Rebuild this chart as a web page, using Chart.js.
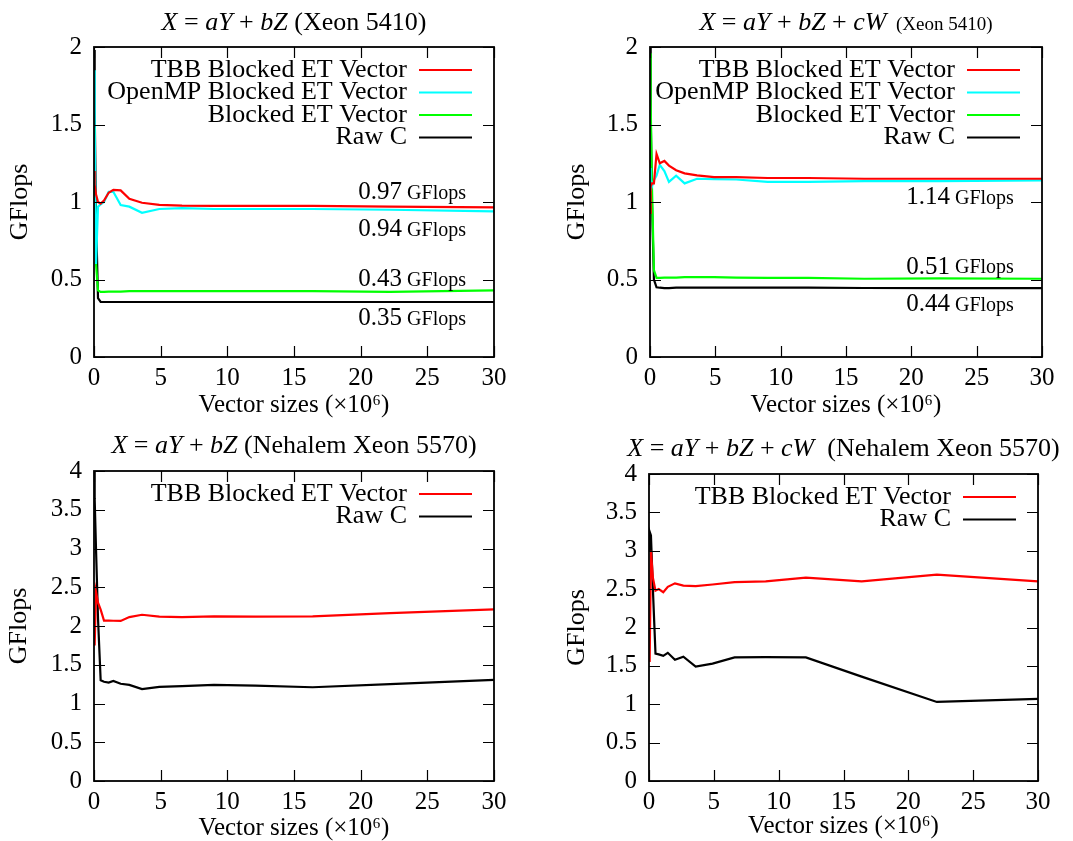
<!DOCTYPE html>
<html>
<head>
<meta charset="utf-8">
<script src="https://cdn.jsdelivr.net/npm/chart.js@4.4.1/dist/chart.umd.min.js"></script>
<style>
  body { margin: 0; background: #fff; overflow: hidden; }
  .panel { position: absolute; }
</style>
</head>
<body>
<canvas id="c1" class="panel" width="536" height="420" style="left:0;top:0"></canvas>
<canvas id="c2" class="panel" width="537" height="420" style="left:536px;top:0"></canvas>
<canvas id="c3" class="panel" width="536" height="421" style="left:0;top:420px"></canvas>
<canvas id="c4" class="panel" width="537" height="421" style="left:536px;top:420px"></canvas>
<script>
// vector sizes (x 10^6) at which the runs were measured
const sizes = [0.005, 0.05, 0.15, 0.3, 0.5, 0.75, 1.1, 1.45, 2.0, 2.65, 3.6, 4.9, 6.6, 9.0, 12.1, 16.4, 22.2, 30.0];

const seriesNames = ['TBB Blocked ET Vector', 'OpenMP Blocked ET Vector', 'Blocked ET Vector', 'Raw C'];

// X = aY + bZ, Xeon 5410
const xeon2Tbb     = [1.2, 1.11, 1.05, 1.0, 0.99, 1.01, 1.06, 1.078, 1.075, 1.02, 0.995, 0.982, 0.977, 0.975, 0.975, 0.975, 0.97, 0.965];
const xeon2Omp     = [1.85, 1.5, 0.6, 0.97, 0.985, 1.0, 1.065, 1.066, 0.98, 0.97, 0.93, 0.955, 0.96, 0.955, 0.955, 0.955, 0.95, 0.94];
const xeon2Blocked = [1.48, 1.2, 0.6, 0.43, 0.42, 0.42, 0.422, 0.422, 0.422, 0.425, 0.425, 0.425, 0.425, 0.425, 0.425, 0.425, 0.42, 0.43];
const xeon2Raw     = [1.98, 1.6, 0.9, 0.38, 0.355, 0.355, 0.355, 0.355, 0.355, 0.355, 0.355, 0.355, 0.355, 0.355, 0.355, 0.355, 0.355, 0.355];
const xeon2Notes   = ['0.97', '0.94', '0.43', '0.35'];

// X = aY + bZ + cW, Xeon 5410
const xeon3Tbb     = [0.93, 1.1, 1.12, 1.12, 1.31, 1.25, 1.265, 1.235, 1.205, 1.185, 1.172, 1.16, 1.16, 1.155, 1.155, 1.15, 1.15, 1.15];
const xeon3Omp     = [1.22, 1.08, 1.1, 1.14, 1.17, 1.24, 1.2, 1.13, 1.17, 1.12, 1.15, 1.148, 1.145, 1.13, 1.13, 1.135, 1.135, 1.14];
const xeon3Blocked = [1.96, 1.65, 1.1, 0.56, 0.51, 0.51, 0.512, 0.512, 0.512, 0.515, 0.515, 0.515, 0.512, 0.51, 0.51, 0.505, 0.507, 0.505];
const xeon3Raw     = [2.0, 1.6, 1.0, 0.5, 0.45, 0.447, 0.445, 0.445, 0.447, 0.447, 0.447, 0.447, 0.447, 0.447, 0.447, 0.445, 0.445, 0.445];
const xeon3Notes   = ['1.14', '0.51', '0.44'];

// X = aY + bZ, Nehalem Xeon 5570
const nehalem2Tbb  = [2.1, 1.75, 2.44, 2.3, 2.21, 2.07, 2.07, 2.068, 2.065, 2.115, 2.145, 2.12, 2.115, 2.125, 2.12, 2.125, 2.165, 2.215];
const nehalem2Raw  = [4.0, 3.64, 3.0, 2.1, 1.3, 1.28, 1.27, 1.29, 1.255, 1.24, 1.185, 1.215, 1.225, 1.24, 1.23, 1.21, 1.25, 1.305];

// X = aY + bZ + cW, Nehalem Xeon 5570
const nehalem3Tbb  = [1.7, 1.55, 3.0, 2.65, 2.48, 2.5, 2.46, 2.53, 2.575, 2.545, 2.54, 2.56, 2.59, 2.6, 2.65, 2.6, 2.69, 2.6];
const nehalem3Raw  = [3.0, 3.25, 3.2, 2.5, 1.66, 1.65, 1.63, 1.67, 1.58, 1.62, 1.49, 1.53, 1.61, 1.615, 1.61, 1.36, 1.03, 1.07];

const SERIF = '"Liberation Serif", "Times New Roman", serif';
const colors = ['#ff0000', '#00ffff', '#00ff00', '#000000'];

// gnuplot look: full frame, inward mirrored ticks, key in the corner, notes, rich title
const gnuFrame = {
  id: 'gnuFrame',
  afterDatasetsDraw(chart, args, opts) {
    const { ctx, chartArea: a, scales } = chart;
    ctx.save();
    ctx.strokeStyle = '#000';
    ctx.lineWidth = 1.2;
    ctx.beginPath();
    scales.y.ticks.forEach(t => {
      const y = Math.round(scales.y.getPixelForValue(t.value)) + 0.5;
      ctx.moveTo(a.left, y); ctx.lineTo(a.left + 11, y);
      ctx.moveTo(a.right, y); ctx.lineTo(a.right - 11, y);
    });
    scales.x.ticks.forEach(t => {
      const x = Math.round(scales.x.getPixelForValue(t.value)) + 0.5;
      ctx.moveTo(x, a.bottom); ctx.lineTo(x, a.bottom - 11);
      ctx.moveTo(x, a.top); ctx.lineTo(x, a.top + 11);
    });
    ctx.stroke();
    ctx.lineWidth = 1.8;
    ctx.strokeRect(a.left, a.top, a.right - a.left, a.bottom - a.top);

    // key
    ctx.textBaseline = 'middle';
    ctx.textAlign = 'right';
    ctx.font = '26px ' + SERIF;
    chart.data.datasets.forEach((ds, i) => {
      const y = a.top + 23 + i * 22.5;
      ctx.fillStyle = '#000';
      ctx.fillText(ds.label, a.right - 87, y);
      ctx.strokeStyle = ds.borderColor;
      ctx.lineWidth = 2.2;
      ctx.beginPath();
      ctx.moveTo(a.right - 75, y); ctx.lineTo(a.right - 22, y);
      ctx.stroke();
    });

    // value notes
    (opts.notes || []).forEach((txt, i) => {
      const [nx, ny] = opts.noteAt[i];
      const x = scales.x.getPixelForValue(nx);
      const y = scales.y.getPixelForValue(ny);
      ctx.fillStyle = '#000';
      ctx.textAlign = 'left';
      ctx.font = '20px ' + SERIF;
      const wSmall = ctx.measureText(' GFlops').width;
      ctx.font = '25px ' + SERIF;
      const wBig = ctx.measureText(txt).width;
      const x0 = x - wSmall - wBig;
      ctx.fillText(txt, x0, y);
      ctx.font = '20px ' + SERIF;
      ctx.fillText(' GFlops', x0 + wBig, y + 1);
    });
    ctx.restore();
  },
  afterDraw(chart, args, opts) {
    const { ctx, chartArea: a } = chart;
    const fonts = { i: 'italic 26px ' + SERIF, n: '26px ' + SERIF, s: '19px ' + SERIF };
    ctx.save();
    ctx.fillStyle = '#000';
    ctx.textAlign = 'left';
    ctx.textBaseline = 'alphabetic';
    const widths = opts.title.map(([t, k]) => { ctx.font = fonts[k]; return ctx.measureText(t).width; });
    let x = (a.left + a.right) / 2 - widths.reduce((s, w) => s + w, 0) / 2;
    opts.title.forEach(([t, k], i) => {
      ctx.font = fonts[k];
      ctx.fillText(t, x, opts.titleBase);
      x += widths[i];
    });
    ctx.restore();
  }
};

function makePanel(id, cfg) {
  const canvas = document.getElementById(id);
  const W = canvas.width, H = canvas.height, box = cfg.box;
  const tickFont = { family: SERIF, size: 25 };
  new Chart(canvas, {
    type: 'line',
    data: {
      datasets: cfg.series.map((vals, i) => ({
        label: seriesNames[cfg.names[i]],
        data: sizes.map((x, j) => ({ x: x, y: vals[j] })),
        borderColor: colors[cfg.names[i]],
        borderWidth: 2.2,
        pointRadius: 0,
        tension: 0,
        fill: false
      }))
    },
    options: {
      responsive: false,
      animation: false,
      devicePixelRatio: 1,
      layout: { padding: { top: box.t, right: W - box.r, left: 0, bottom: 0 } },
      plugins: {
        legend: { display: false },
        tooltip: { enabled: false },
        gnuFrame: { title: cfg.title, titleBase: cfg.titleBase, notes: cfg.notes, noteAt: cfg.noteAt }
      },
      scales: {
        x: {
          type: 'linear', min: 0, max: 30,
          grid: { display: false, drawTicks: false },
          border: { display: false },
          ticks: { stepSize: 5, padding: 6, color: '#000', font: tickFont },
          title: {
            display: true, text: 'Vector sizes (×10⁶)', color: '#000', font: tickFont,
            padding: { top: 0, bottom: H - box.b - cfg.xTitleDy - 15 }
          },
          afterFit(s) { s.height = H - box.b; }
        },
        y: {
          min: 0, max: cfg.ymax,
          grid: { display: false, drawTicks: false },
          border: { display: false },
          ticks: { stepSize: 0.5, padding: 12, color: '#000', font: tickFont, callback: v => String(v) },
          title: {
            display: true, text: 'GFlops', color: '#000', font: { family: SERIF, size: 26 },
            padding: { top: cfg.yTitleX - 15.6, bottom: 0 }
          },
          afterFit(s) { s.width = box.l; }
        }
      }
    },
    plugins: [gnuFrame]
  });
}

const two = [['X', 'i'], [' = ', 'n'], ['aY', 'i'], [' + ', 'n'], ['bZ', 'i']];
const three = two.concat([[' + ', 'n'], ['cW', 'i']]);

makePanel('c1', {
  box: { l: 94, r: 494, t: 47, b: 357 }, ymax: 2,
  series: [xeon2Tbb, xeon2Omp, xeon2Blocked, xeon2Raw], names: [0, 1, 2, 3],
  title: two.concat([[' (Xeon 5410)', 'n']]), titleBase: 30,
  notes: xeon2Notes, noteAt: [[27.9, 1.06], [27.9, 0.82], [27.9, 0.5], [27.9, 0.25]],
  yTitleX: 20, xTitleDy: 48
});
makePanel('c2', {
  box: { l: 114, r: 506, t: 47, b: 357 }, ymax: 2,
  series: [xeon3Tbb, xeon3Omp, xeon3Blocked, xeon3Raw], names: [0, 1, 2, 3],
  title: three.concat([['  (Xeon 5410)', 's']]), titleBase: 29.5,
  notes: xeon3Notes, noteAt: [[27.85, 1.03], [27.85, 0.58], [27.85, 0.34]],
  yTitleX: 40.7, xTitleDy: 48
});
makePanel('c3', {
  box: { l: 94, r: 494, t: 51, b: 361 }, ymax: 4,
  series: [nehalem2Tbb, nehalem2Raw], names: [0, 3],
  title: two.concat([[' (Nehalem Xeon 5570)', 'n']]), titleBase: 32.5,
  yTitleX: 19, xTitleDy: 47.6
});
makePanel('c4', {
  box: { l: 113, r: 502, t: 54, b: 361 }, ymax: 4,
  series: [nehalem3Tbb, nehalem3Raw], names: [0, 3],
  title: three.concat([['  (Nehalem Xeon 5570)', 'n']]), titleBase: 35.5,
  yTitleX: 40.7, xTitleDy: 45.7
});
</script>
</body>
</html>
